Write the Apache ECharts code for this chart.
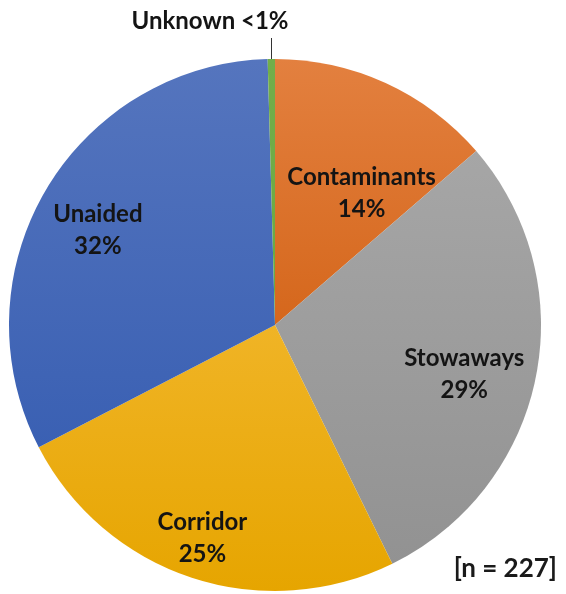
<!DOCTYPE html>
<html>
<head>
<meta charset="utf-8">
<script src="https://cdn.jsdelivr.net/npm/echarts@6/dist/echarts.min.js"></script>
<style>html,body{margin:0;padding:0;background:#fff}#c{width:566px;height:594px}</style>
</head>
<body>
<div id="c"></div>
<script>
// Data (counts out of n = 227)
var categories = ['Contaminants', 'Stowaways', 'Corridor', 'Unaided', 'Unknown'];
var values = [31, 66, 56, 73, 1];
var percentLabels = ['14%', '29%', '25%', '32%', '<1%'];
var noteText = '[n = 227]';

// Styling (separate from data)
var colorTop = ['#E3803F', '#A6A6A6', '#F0B426', '#5575BE', '#72AE4A'];
var colorBottom = ['#D5671C', '#929292', '#E6A500', '#3A60B3', '#6AA842'];
var labelOffsets = [[30, -8], [56, 22], [-30, 84], [-60, -26], [0, 0]];

var chart = echarts.init(document.getElementById('c'), null, {renderer: 'canvas'});
var FONT = 'Lato, "Open Sans", sans-serif';

var data = categories.map(function (name, i) {
  var item = {
    name: name,
    value: values[i],
    itemStyle: {
      color: new echarts.graphic.LinearGradient(0, 0, 0, 1, [
        {offset: 0, color: colorTop[i]},
        {offset: 1, color: colorBottom[i]}
      ])
    },
    label: {
      position: 'inside',
      offset: labelOffsets[i],
      formatter: name + '\n' + percentLabels[i]
    }
  };
  if (name === 'Unknown') {
    item.label = {
      position: 'outside',
      formatter: name + ' ' + percentLabels[i]
    };
    item.labelLine = {show: true, length: 22, length2: 0, lineStyle: {color: '#333', width: 1}};
  }
  return item;
});

chart.setOption({
  animation: false,
  graphic: [{
    type: 'text',
    right: 9,
    bottom: 12,
    style: {text: noteText, font: 'bold 26px ' + FONT, fill: '#1a1a1a'}
  }],
  series: [{
    type: 'pie',
    center: [275, 325],
    radius: [0, 266],
    startAngle: 90,
    clockwise: true,
    avoidLabelOverlap: false,
    data: data,
    itemStyle: {borderWidth: 0},
    label: {
      show: true,
      color: '#141414',
      fontFamily: FONT,
      fontWeight: 'bold',
      fontSize: 24,
      lineHeight: 32,
      align: 'center'
    },
    labelLine: {show: false},
    labelLayout: function (p) {
      if (p.dataIndex === 4) {
        return {
          x: 210, y: 21, align: 'center', verticalAlign: 'middle',
          labelLinePoints: [[271.5, 60], [271.5, 38], [271.5, 38]]
        };
      }
    }
  }]
});
</script>
</body>
</html>
